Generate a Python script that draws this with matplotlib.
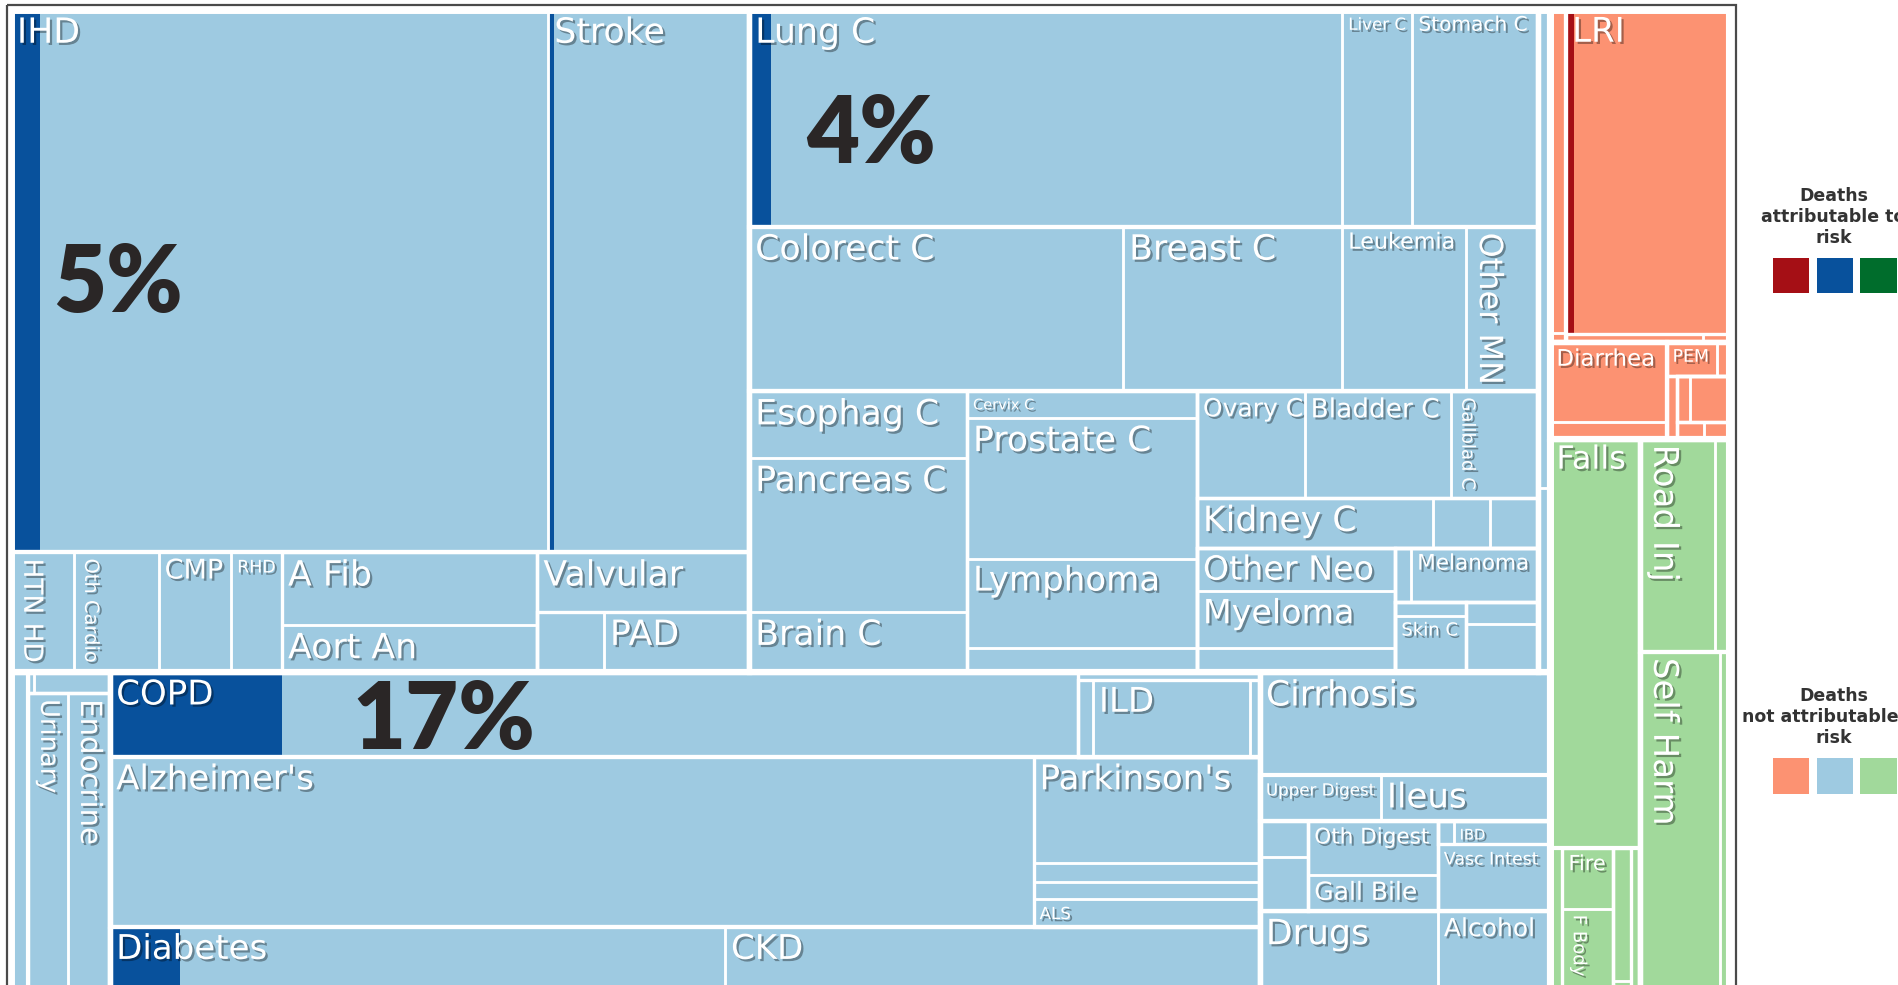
import matplotlib
matplotlib.use("Agg")
import matplotlib.pyplot as plt
import matplotlib.patheffects as pe
from matplotlib.patches import Rectangle

# cell sizes (relative area units)
# cardiovascular
cvd_big = [("IHD", 1989.1), ("Stroke", 743.7)]
cvd_row = [("HTN HD", 51.5), ("Oth Cardio", 69.3), ("CMP", 59.4), ("RHD", 41.6)]
cvd_afib = [("A Fib", 126.6), ("Aort An", 82.3)]
cvd_valv = [("Valvular", 85.8)]
cvd_pad = [("cvd_x1", 27.5), ("PAD", 60.0)]

# neoplasms
neo_row1 = [("Lung C", 877.1), ("Liver C", 103.8), ("Stomach C", 186.2)]
neo_row2 = [("Colorect C", 420.2), ("Breast C", 246.2), ("Leukemia", 138.7), ("Other MN", 81.6)]
neo_col_a = [("Esophag C", 99.0), ("Pancreas C", 228.6), ("Brain C", 90.0)]
neo_col_b = [("Cervix C", 41.8), ("Prostate C", 220.4), ("Lymphoma", 140.6), ("neo_x1", 38.0)]
neo_c1 = [("Ovary C", 78.3), ("Bladder C", 106.5), ("Gallblad C", 63.4)]
neo_c2 = [("Kidney C", 80.0), ("neo_x2", 19.3), ("neo_x3", 16.4)]
neo_c3 = [("Other Neo", 59.0), ("Myeloma", 77.1), ("neo_x4", 32.8)]
neo_c4 = [("neo_x5", 5.9), ("Melanoma", 47.3)]
neo_c5 = [("neo_x6", 6.4), ("Skin C", 27.3)]
neo_c6 = [("neo_x7", 10.8), ("neo_x8", 24.0)]
ncd_strip = [("ncd_x1", 39.5), ("ncd_x2", 15.2)]

# other non-communicable
oth_thin = [("ncd_x3", 41.3)]
oth_top = [("ncd_x4", 0.9), ("ncd_x5", 10.7)]
oth_main = [("Urinary", 91.7), ("Endocrine", 97.3)]
copd = [("COPD", 560.0)]
ild_top = [("resp_x1", 9.0)]
ild_row = [("resp_x2", 7.7), ("ILD", 83.2), ("resp_x3", 5.1)]
alz = [("Alzheimer's", 1068.2)]
neuro_small = [("Parkinson's", 162.7), ("neuro_x1", 29.9), ("neuro_x2", 26.2), ("ALS", 43.0)]
diab_ckd = [("Diabetes", 431.8), ("CKD", 375.7)]
dig_top = [("Cirrhosis", 204.0)]
dig_row = [("Upper Digest", 38.0), ("Ileus", 53.2)]
dig_a = [("dig_x1", 11.6), ("dig_x2", 18.0)]
dig_b = [("Oth Digest", 47.1), ("Gall Bile", 32.1)]
dig_c_top = [("dig_x3", 2.5), ("IBD", 15.2)]
dig_c_bot = [("Vasc Intest", 51.2)]
subst = [("Drugs", 144.1), ("Alcohol", 91.1)]

# communicable
lri_side = [("comm_x1", 34.7), ("comm_x2", 0.9)]
lri_main = [("LRI", 361.8)]
lri_under = [("comm_x3", 6.8), ("comm_x4", 1.3)]
diarrhea = [("Diarrhea", 63.4), ("comm_x5", 13.4)]
pem_row = [("PEM", 11.8), ("comm_x6", 2.8)]
comm_c1 = [("comm_x7", 4.7)]
comm_c23 = [("comm_x8", 3.8), ("comm_x9", 12.5)]
comm_c45 = [("comm_x10", 3.1), ("comm_x11", 2.9)]

# injuries
falls = [("Falls", 250.1)]
inj_thin = [("inj_x1", 15.0)]
fire_fb = [("Fire", 21.0), ("F Body", 42.0)]
inj_col = [("inj_x2", 16.5), ("inj_x3", 6.0)]
inj_thin2 = [("inj_x4", 10.5)]
road = [("Road Inj", 109.1), ("inj_x5", 21.1)]
self_harm = [("Self Harm", 205.9), ("inj_x6", 25.0)]

# share of deaths attributable to risk (dark part of cell)
attrib = {"IHD": 0.055, "Stroke": 0.028, "Lung C": 0.037, "COPD": 0.178,
          "Diabetes": 0.114, "LRI": 0.05}
pct_labels = {"IHD": "5%", "Lung C": "4%", "COPD": "17%"}

light = {"comm": "#FC9272", "ncd": "#9ECAE1", "inj": "#A1D99B"}
dark = {"comm": "#A50F15", "ncd": "#08519C", "inj": "#006D2C"}

# label style: fontsize, rotation
LABELS = {
    "IHD": (25, 0), "Stroke": (25, 0), "Lung C": (25, 0), "Colorect C": (25, 0),
    "Breast C": (25, 0), "Esophag C": (25, 0), "Pancreas C": (25, 0),
    "Prostate C": (25, 0), "Lymphoma": (24.5, 0), "Brain C": (25, 0),
    "Kidney C": (25, 0), "Other Neo": (24, 0), "Myeloma": (24, 0),
    "A Fib": (25, 0), "Aort An": (25, 0), "Valvular": (25, 0), "PAD": (25, 0),
    "COPD": (24.5, 0), "ILD": (24.5, 0), "Alzheimer's": (24.5, 0),
    "Parkinson's": (24.5, 0), "Cirrhosis": (25, 0), "Ileus": (24.5, 0),
    "Diabetes": (24.5, 0), "CKD": (24.5, 0), "Drugs": (25, 0), "LRI": (24.5, 0),
    "Falls": (23, 0), "Road Inj": (24.5, 270), "Self Harm": (24.5, 270),
    "Other MN": (23, 270), "HTN HD": (19, 270), "Oth Cardio": (14, 270),
    "Urinary": (18.5, 270), "Endocrine": (21, 270), "Gallblad C": (13, 270),
    "F Body": (13, 270), "CMP": (19.5, 0), "RHD": (12.5, 0), "Liver C": (12, 0),
    "Stomach C": (14.5, 0), "Leukemia": (16, 0), "Cervix C": (10.5, 0),
    "Ovary C": (18, 0), "Bladder C": (19, 0), "Melanoma": (15.5, 0),
    "Skin C": (13, 0), "Alcohol": (18, 0), "Upper Digest": (12, 0),
    "Oth Digest": (15.5, 0), "IBD": (10.5, 0), "Vasc Intest": (12.5, 0),
    "Gall Bile": (18, 0), "ALS": (12, 0), "Diarrhea": (16.5, 0), "PEM": (12.5, 0),
    "Fire": (15, 0),
}
PCT_OFFSET = {"IHD": (35, 227), "Lung C": (47, 104), "COPD": (200, 41)}


def lv(lst):
    return [{"name": n, "value": v} for n, v in lst]


def H(*kids, cat=None):
    return {"split": "h", "kids": list(kids), "cat": cat}


def V(*kids, cat=None):
    return {"split": "v", "kids": list(kids), "cat": cat}


cvd = V(H(*lv(cvd_big)),
        H(*lv(cvd_row), V(*lv(cvd_afib)), V(*lv(cvd_valv), H(*lv(cvd_pad)))))
neo = V(H(*lv(neo_row1)), H(*lv(neo_row2)),
        H(V(*lv(neo_col_a)), V(*lv(neo_col_b)),
          V(H(*lv(neo_c1)), H(*lv(neo_c2)),
            H(V(*lv(neo_c3)),
              V(H(*lv(neo_c4)), H(V(*lv(neo_c5)), V(*lv(neo_c6))))))))
top_band = H(cvd, neo, V(*lv(ncd_strip)))

other_ncd = H(*lv(oth_thin), V(H(*lv(oth_top)), H(*lv(oth_main))))
middle = V(H(*lv(copd), V(*lv(ild_top), H(*lv(ild_row)))),
           H(*lv(alz), V(*lv(neuro_small))),
           H(*lv(diab_ckd)))
digest = V(*lv(dig_top), H(*lv(dig_row)),
           H(V(*lv(dig_a)), V(*lv(dig_b)), V(H(*lv(dig_c_top)), *lv(dig_c_bot))),
           H(*lv(subst)))
ncd = V(top_band, H(other_ncd, middle, digest), cat="ncd")

comm = V(H(V(*lv(lri_side)), V(*lv(lri_main), H(*lv(lri_under)))),
         H(V(*lv(diarrhea)),
           V(H(*lv(pem_row)),
             H(*lv(comm_c1), V(H(*lv(comm_c23)), H(*lv(comm_c45)))))),
         cat="comm")
inj = H(V(*lv(falls), H(*lv(inj_thin), V(*lv(fire_fb)), V(*lv(inj_col)), *lv(inj_thin2))),
        V(H(*lv(road)), H(*lv(self_harm))), cat="inj")
root = H(ncd, V(comm, inj))


def size(n):
    return n["value"] if "value" in n else sum(size(k) for k in n["kids"])


def place(n, x, y, w, h, cat, depth, cells, boxes):
    if "value" in n:
        cells.append((n["name"], x, y, w, h, cat))
        return
    cat = n["cat"] or cat
    boxes.append((x, y, w, h, depth))
    tot = size(n)
    pos = 0.0
    for k in n["kids"]:
        f = size(k) / tot
        if n["split"] == "h":
            place(k, x + pos * w, y, f * w, h, cat, depth + 1, cells, boxes)
        else:
            place(k, x, y + pos * h, w, f * h, cat, depth + 1, cells, boxes)
        pos += f


cells, boxes = [], []
place(root, 9, 8, 1419, 842, None, 0, cells, boxes)

fig = plt.figure(figsize=(18.99, 9.85), dpi=100)
ax = fig.add_axes([0, 0, 1, 1])
ax.set_xlim(0, 1568)
ax.set_ylim(813, 0)
ax.axis("off")

shadow = [pe.withSimplePatchShadow(offset=(1.6, -1.6), shadow_rgbFace="black", alpha=0.35)]

for name, x, y, w, h, cat in cells:
    ax.add_patch(Rectangle((x, y), w, h, facecolor=light[cat], edgecolor="none", zorder=1))
    if name in attrib:
        ax.add_patch(Rectangle((x, y), w * attrib[name], h, facecolor=dark[cat],
                               edgecolor="none", zorder=2))
    ax.add_patch(Rectangle((x, y), w, h, facecolor="none", edgecolor="white", lw=1.8, zorder=3))

group_lw = {1: 5.0, 2: 4.4, 3: 3.8, 4: 3.0}
for x, y, w, h, depth in boxes:
    if depth == 0:
        continue
    ax.add_patch(Rectangle((x, y), w, h, facecolor="none", edgecolor="white",
                           lw=group_lw.get(depth, 2.4), zorder=4))

for name, x, y, w, h, cat in cells:
    if name in LABELS:
        fs, rot = LABELS[name]
        dx = 6 if rot else 5
        ax.text(x + dx, y + 5, name, fontsize=fs, rotation=rot, color="white",
                ha="left", va="top", zorder=6, path_effects=shadow)
    if name in pct_labels:
        ox, oy = PCT_OFFSET[name]
        ax.text(x + ox, y + oy, pct_labels[name], fontsize=66, family="Lato",
                fontweight="heavy", color="#2a2626", ha="left", va="center", zorder=7)

# outer frame
ax.add_patch(Rectangle((6, 4), 1427, 900, facecolor="none", edgecolor="#4a4a4a",
                       lw=1.6, zorder=8))

# legend (runs off the right edge, as in the source image)
for ty, sy, title, pal in [(179, 213, "Deaths\nattributable to\nrisk", dark),
                           (592, 626, "Deaths\nnot attributable to\nrisk", light)]:
    ax.text(1514, ty, title, ha="center", va="center", fontsize=12.5,
            fontweight="bold", color="#333333", linespacing=1.2)
    for i, cat in enumerate(["comm", "ncd", "inj"]):
        ax.add_patch(Rectangle((1464 + 36 * i, sy), 30, 29, facecolor=pal[cat],
                               edgecolor="none", clip_on=False))

fig.savefig("out.png", dpi=100)
